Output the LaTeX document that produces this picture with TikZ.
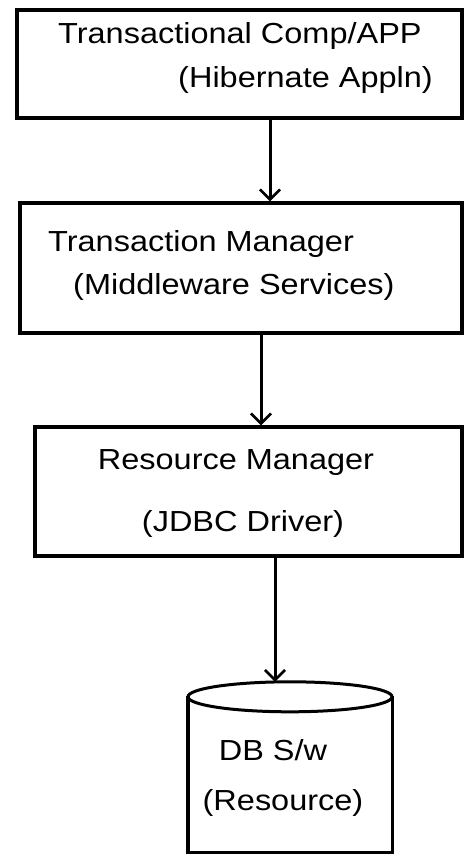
\documentclass[tikz,border=0pt]{standalone}
\usepackage{fontspec}
\setmainfont[FakeStretch=1.12]{Liberation Sans}
\usetikzlibrary{arrows.meta,calc}
\begin{document}
\begin{tikzpicture}[x=1pt,y=-1pt,
  box/.style={draw,line width=3.4pt,inner sep=0pt},
  lbl/.style={inner sep=0pt,font=\fontsize{29}{32}\selectfont},
  conn/.style={line width=3pt,-{Straight Barb[length=10pt,width=20pt,line width=2.6pt]}}]
\useasboundingbox (0,0) rectangle (464,863);
% boxes
\node[box,minimum width=445pt,minimum height=108pt] (b1) at (239.5,64) {};
\node[box,minimum width=442pt,minimum height=130pt] (b2) at (241,268) {};
\node[box,minimum width=427pt,minimum height=129pt] (b3) at (248.5,491.5) {};
% database cylinder
\node[inner sep=0pt,minimum width=204pt,minimum height=170pt] (db) at (290,767) {};
\draw[line width=3.4pt] ($(db.north west)+(0,14)$) -- (db.south west) -- (db.south east) -- ($(db.north east)+(0,14)$);
\draw[line width=3pt] ($(db.north)+(0,15)$) ellipse [x radius=102, y radius=15];
\coordinate (dbtop) at (db.north);
% texts
\node[lbl,anchor=west] (t1a) at (58,36) {Transactional Comp/APP};
\node[lbl,anchor=east] (t1b) at (433,80) {(Hibernate Appln)};
\node[lbl,anchor=west] (t2a) at (48,244) {Transaction Manager};
\node[lbl,anchor=west] (t2b) at (73,287) {(Middleware Services)};
\node[lbl] (t3a) at (236,463) {Resource Manager};
\node[lbl] (t3b) at (243,524) {(JDBC Driver)};
\node[lbl] (t4a) at (273,750) {DB S/w};
\node[lbl] (t4b) at (283,803) {(Resource)};
% connectors
\coordinate (x1) at (270,0);
\coordinate (x2) at (261,0);
\coordinate (x3) at (275,0);
\draw[conn] (x1 |- b1.south) -- (x1 |- b2.north);
\draw[conn] (x2 |- b2.south) -- (x2 |- b3.north);
\draw[conn] (x3 |- b3.south) -- (x3 |- dbtop);
\end{tikzpicture}
\end{document}
